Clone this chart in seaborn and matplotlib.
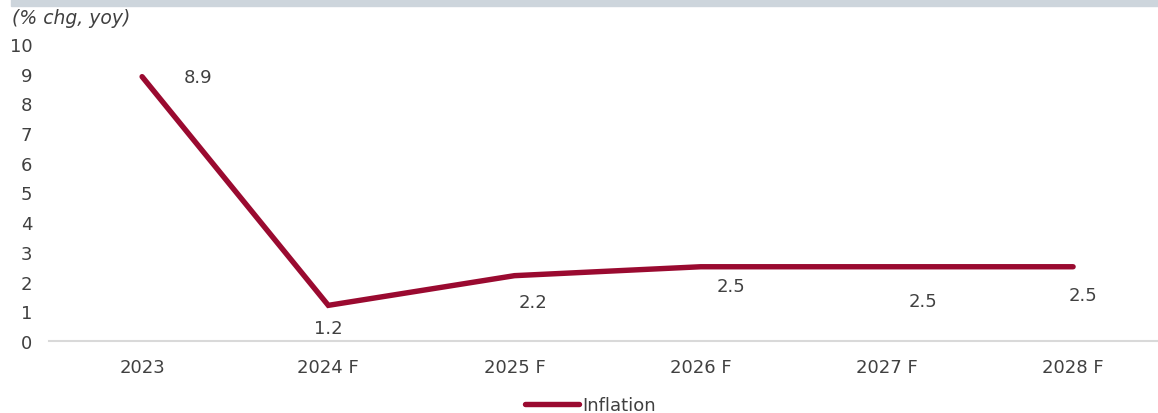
import numpy as np
import pandas as pd
import matplotlib
matplotlib.use("Agg")
import matplotlib.pyplot as plt
import seaborn as sns

# Chart data
years = ["2023", "2024 F", "2025 F", "2026 F", "2027 F", "2028 F"]
inflation = [8.9, 1.2, 2.2, 2.5, 2.5, 2.5]
# label offsets (points) to mimic the Excel label placement
label_dx = [40, 0, 13, 22, 26, 7]
label_dy = [0, -16, -19, -14, -25, -20]

sns.set_style("white")
plt.rcParams['font.family'] = ['DejaVu Sans']

line_color = "#9A0A30"
text_color = "#404040"
fs = 13

df = pd.DataFrame({"Year": years, "Inflation": inflation})
df["pos"] = np.arange(len(years))

fig = plt.figure(figsize=(11.58, 4.14), dpi=100)
ax = fig.add_axes([49 / 1158, 1 - 342 / 414, 1 - 49 / 1158, (342 - 45) / 414])

sns.lineplot(data=df, x="pos", y="Inflation", ax=ax, color=line_color,
             linewidth=3.9, label="Inflation", solid_capstyle="round",
             solid_joinstyle="miter")

for i, v in enumerate(inflation):
    ax.annotate(f"{v:.1f}", (i, v), xytext=(label_dx[i], label_dy[i]),
                textcoords="offset points", ha="center", va="center",
                fontsize=fs, color=text_color)

ax.set_xlim(-0.5, 5.456)
ax.set_ylim(0, 10)
ax.set_xticks(range(len(years)))
ax.set_xticklabels(years)
ax.set_yticks(range(0, 11))
ax.set_xlabel("")
ax.set_ylabel("")
ax.tick_params(axis="both", length=0, labelsize=fs, labelcolor=text_color)
ax.tick_params(axis="x", pad=12)
ax.tick_params(axis="y", pad=12)
for lbl in ax.get_yticklabels():
    lbl.set_horizontalalignment("right")

for s in ["top", "right", "left"]:
    ax.spines[s].set_visible(False)
ax.spines["bottom"].set_color("#D9D9D9")
ax.spines["bottom"].set_linewidth(1.5)

leg = ax.legend(loc="center", bbox_to_anchor=(0.51, 1 - 406 / 414),
                bbox_transform=fig.transFigure, frameon=False, fontsize=fs,
                handlelength=3.0, handletextpad=0.15, labelcolor=text_color,
                borderpad=0)

# grey band at the top
fig.patches.append(plt.Rectangle((11 / 1158, 1 - 7 / 414), 1, 7 / 414,
                                 transform=fig.transFigure, color="#CDD5DC",
                                 zorder=0))
fig.text(12 / 1158, 1 - 18 / 414, "(% chg, yoy)", style="italic",
         fontsize=13.5, color=text_color, va="center", ha="left")

fig.savefig("out.png", dpi=100)
